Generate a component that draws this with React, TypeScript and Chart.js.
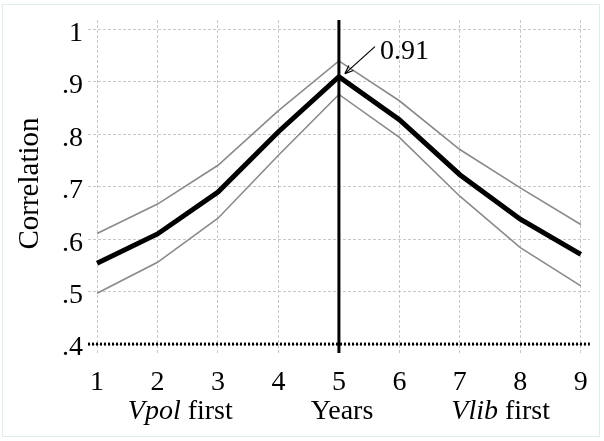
import React, { useEffect, useRef } from 'react';
import { Chart, registerables } from 'chart.js';

Chart.register(...registerables);

// Lag in years between the two measures (5 = simultaneous)
const years = [1, 2, 3, 4, 5, 6, 7, 8, 9];
// Estimated correlation and its confidence band
const correlation = [0.554, 0.61, 0.69, 0.805, 0.91, 0.828, 0.723, 0.638, 0.571];
const upperBound = [0.611, 0.667, 0.741, 0.845, 0.94, 0.864, 0.771, 0.698, 0.628];
const lowerBound = [0.497, 0.556, 0.64, 0.76, 0.876, 0.794, 0.682, 0.584, 0.511];

const xTickValues = [1, 2, 3, 4, 5, 6, 7, 8, 9];
const xTickLabels = ['1', '2', '3', '4', '5', '6', '7', '8', '9'];
const yTickValues = [0.4, 0.5, 0.6, 0.7, 0.8, 0.9, 1];
const yTickLabels = ['.4', '.5', '.6', '.7', '.8', '.9', '1'];

const xRange = [0.85, 9.15];
const yRange = [0.383, 1.018];

const peakIndex = 4;
const baselineValue = 0.4;

const yTitle = 'Correlation';
const xTitleParts: { text: string; italic?: boolean }[][] = [
  [{ text: 'Vpol', italic: true }, { text: ' first' }],
  [{ text: 'Years' }],
  [{ text: 'Vlib', italic: true }, { text: ' first' }],
];

const FONT = "'Liberation Serif', 'Times New Roman', serif";

const toPoints = (vals: number[]) => years.map((x, i) => ({ x, y: vals[i] }));

const overlayPlugin = {
  id: 'overlay',
  beforeDatasetsDraw(chart: any) {
    const { ctx, chartArea, scales } = chart;
    const yb = scales.y.getPixelForValue(baselineValue);
    ctx.save();
    ctx.strokeStyle = '#000';
    ctx.lineWidth = 3;
    ctx.setLineDash([2, 2]);
    ctx.beginPath();
    ctx.moveTo(chartArea.left, yb);
    ctx.lineTo(chartArea.right, yb);
    ctx.stroke();
    ctx.restore();
  },
  afterDatasetsDraw(chart: any) {
    const { ctx, chartArea, scales } = chart;
    const xs = scales.x;
    const ys = scales.y;

    // vertical reference line at the peak year
    const px = xs.getPixelForValue(years[peakIndex]);
    const py = ys.getPixelForValue(correlation[peakIndex]);
    ctx.save();
    ctx.strokeStyle = '#000';
    ctx.lineWidth = 3;
    ctx.beginPath();
    ctx.moveTo(px, chartArea.top);
    ctx.lineTo(px, chartArea.bottom);
    ctx.stroke();

    // arrow pointing at the peak with its value
    const tipX = px + 6;
    const tipY = py - 3;
    const tailX = px + 36;
    const tailY = py - 30;
    ctx.lineWidth = 1.2;
    ctx.beginPath();
    ctx.moveTo(tailX, tailY);
    ctx.lineTo(tipX, tipY);
    ctx.stroke();
    const ang = Math.atan2(tipY - tailY, tipX - tailX);
    const headLen = 9;
    const spread = 0.38;
    ctx.beginPath();
    ctx.moveTo(tipX, tipY);
    ctx.lineTo(tipX - headLen * Math.cos(ang - spread), tipY - headLen * Math.sin(ang - spread));
    ctx.moveTo(tipX, tipY);
    ctx.lineTo(tipX - headLen * Math.cos(ang + spread), tipY - headLen * Math.sin(ang + spread));
    ctx.stroke();

    ctx.fillStyle = '#000';
    ctx.font = `28px ${FONT}`;
    ctx.textAlign = 'left';
    ctx.textBaseline = 'alphabetic';
    ctx.fillText(correlation[peakIndex].toFixed(2), px + 41, py - 18);

    // x-axis title: three parts spaced evenly and centred under the plot
    const size = 28;
    const gap = 78;
    const widthOf = (parts: { text: string; italic?: boolean }[]) =>
      parts.reduce((w, p) => {
        ctx.font = `${p.italic ? 'italic ' : ''}${size}px ${FONT}`;
        return w + ctx.measureText(p.text).width;
      }, 0);
    const widths = xTitleParts.map(widthOf);
    const total = widths.reduce((a, b) => a + b, 0) + gap * (xTitleParts.length - 1);
    let cursor = (chartArea.left + chartArea.right) / 2 - total / 2;
    const baseY = chartArea.bottom + 66;
    xTitleParts.forEach((parts, i) => {
      let x = cursor;
      parts.forEach((p) => {
        ctx.font = `${p.italic ? 'italic ' : ''}${size}px ${FONT}`;
        ctx.fillText(p.text, x, baseY);
        x += ctx.measureText(p.text).width;
      });
      cursor += widths[i] + gap;
    });

    // y-axis title
    ctx.translate(38, (chartArea.top + chartArea.bottom) / 2 - 3);
    ctx.rotate(-Math.PI / 2);
    ctx.font = `29px ${FONT}`;
    ctx.textAlign = 'center';
    ctx.fillText(yTitle, 0, 0);
    ctx.restore();
  },
};

export default function App() {
  const canvasRef = useRef<HTMLCanvasElement | null>(null);

  useEffect(() => {
    if (!canvasRef.current) return;
    const chart = new Chart(canvasRef.current, {
      type: 'line',
      data: {
        datasets: [
          {
            data: toPoints(upperBound),
            borderColor: '#8a8a8a',
            borderWidth: 1.6,
            pointRadius: 0,
            fill: false,
          },
          {
            data: toPoints(lowerBound),
            borderColor: '#8a8a8a',
            borderWidth: 1.6,
            pointRadius: 0,
            fill: false,
          },
          {
            data: toPoints(correlation),
            borderColor: '#000',
            borderWidth: 5,
            pointRadius: 0,
            fill: false,
          },
        ],
      },
      options: {
        animation: false,
        responsive: false,
        events: [],
        layout: { padding: { top: 20, right: 13, left: 0, bottom: 0 } },
        plugins: { legend: { display: false }, tooltip: { enabled: false }, title: { display: false } },
        scales: {
          x: {
            type: 'linear',
            min: xRange[0],
            max: xRange[1],
            afterBuildTicks: (scale: any) => {
              scale.ticks = xTickValues.map((v) => ({ value: v }));
            },
            afterFit: (scale: any) => {
              scale.height = 88;
            },
            ticks: {
              autoSkip: false,
              maxRotation: 0,
              color: '#000',
              padding: 16,
              font: { family: FONT, size: 28, lineHeight: 1 },
              callback: (v: any) => xTickLabels[xTickValues.indexOf(Number(v))] ?? '',
            },
            grid: { color: '#c8c8c8', lineWidth: 1, drawTicks: false },
            border: { display: false, dash: [3, 2] },
          },
          y: {
            type: 'linear',
            min: yRange[0],
            max: yRange[1],
            afterBuildTicks: (scale: any) => {
              scale.ticks = yTickValues.map((v) => ({ value: v }));
            },
            afterFit: (scale: any) => {
              scale.width = 88;
            },
            ticks: {
              autoSkip: false,
              color: '#000',
              padding: 5,
              labelOffset: 4,
              font: { family: FONT, size: 28, lineHeight: 1 },
              callback: (v: any) => {
                const i = yTickValues.findIndex((t) => Math.abs(t - Number(v)) < 1e-6);
                return i >= 0 ? yTickLabels[i] : '';
              },
            },
            grid: { color: '#c8c8c8', lineWidth: 1, drawTicks: false },
            border: { display: false, dash: [3, 2] },
          },
        },
      },
      plugins: [overlayPlugin],
    } as any);
    return () => chart.destroy();
  }, []);

  return (
    <div style={{ position: 'fixed', left: 0, top: 0, width: 604, height: 441, background: '#fff' }}>
      <div
        style={{
          position: 'absolute',
          left: 2,
          top: 4,
          width: 598,
          height: 433,
          border: '1px solid #e2ecec',
          boxSizing: 'border-box',
        }}
      />
      <canvas ref={canvasRef} width={604} height={441} style={{ position: 'absolute', left: 0, top: 0 }} />
    </div>
  );
}
